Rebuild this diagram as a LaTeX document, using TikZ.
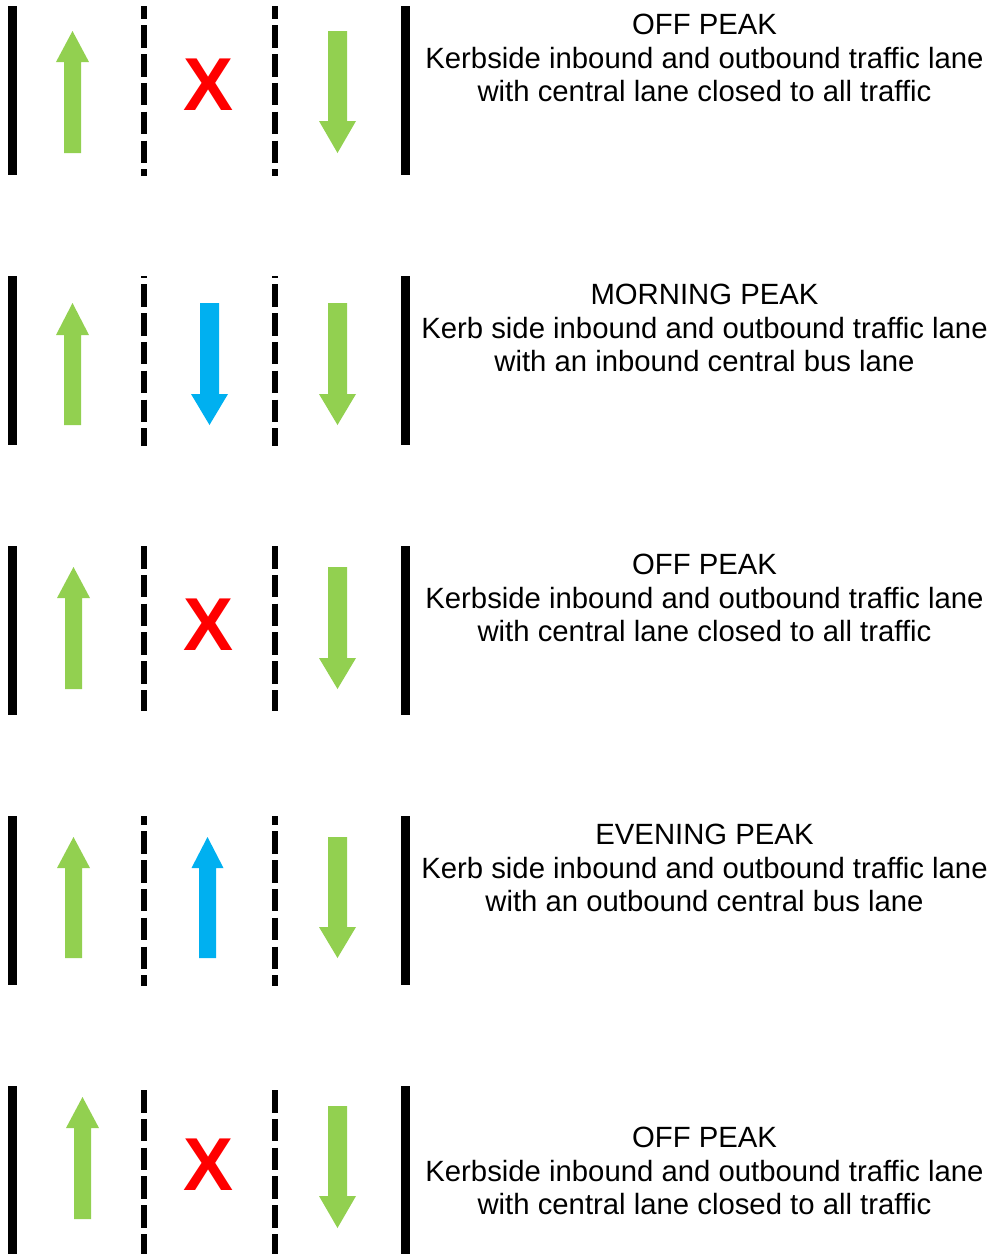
\documentclass[tikz,border=0pt]{standalone}
\usepackage{fontspec}
\setmainfont{Liberation Sans}
\definecolor{lgreen}{HTML}{92D050}
\definecolor{lblue}{HTML}{00B0F0}
\definecolor{xred}{HTML}{FF0000}
% #1 colour, #2 centre x, #3 shaft half width, #4 head half width, #5 tip y, #6 head base y, #7 tail y
\newcommand{\lanearrow}[7]{\fill[#1] (#2-#3,#7) -- (#2-#3,#6) -- (#2-#4,#6) -- (#2,#5) -- (#2+#4,#6) -- (#2+#3,#6) -- (#2+#3,#7) -- cycle;}
\begin{document}
\begin{tikzpicture}[x=1pt,y=-1pt,
  kerb/.style={line width=9pt,black},
  lanedash/.style={line width=6pt,black,dash pattern=on 22.5pt off 6.3pt},
  lbl/.style={anchor=base,inner sep=0pt,font=\fontsize{29.3}{34}\selectfont},
  xmark/.style={anchor=base,inner sep=0pt,text=xred,font=\fontsize{75}{80}\selectfont\bfseries}]
\useasboundingbox (0,0) rectangle (990,1254);

% ---------- Panel 1: OFF PEAK ----------
\draw[kerb] (12.5,6) -- (12.5,175);
\draw[kerb] (405.5,6) -- (405.5,175);
\draw[lanedash,dash phase=9.5pt] (144,6) -- (144,176);
\draw[lanedash,dash phase=9.5pt] (275,6) -- (275,176);
\lanearrow{lgreen}{72.5}{8.5}{16.5}{31}{62}{153}
\lanearrow{lgreen}{337.5}{9.5}{18.5}{153}{121}{31}
\node[xmark] (x1) at (209,110) {X};
\node[lbl] (t1a) at (704.5,34) {OFF PEAK};
\node[lbl] (t1b) at (704.5,68) {Kerbside inbound and outbound traffic lane};
\node[lbl] (t1c) at (704.5,101.5) {with central lane closed to all traffic};

% ---------- Panel 2: MORNING PEAK ----------
\draw[kerb] (12.5,276) -- (12.5,445);
\draw[kerb] (405.5,276) -- (405.5,445);
\draw[lanedash,dash phase=20.5pt] (144,276) -- (144,446);
\draw[lanedash,dash phase=20.5pt] (275,276) -- (275,446);
\lanearrow{lgreen}{72.5}{8.5}{16.5}{303}{335}{425}
\lanearrow{lblue}{209.5}{9.5}{18.5}{425}{394}{303}
\lanearrow{lgreen}{337.5}{9.5}{18.5}{425}{394}{303}
\node[lbl] (t2a) at (704.5,304) {MORNING PEAK};
\node[lbl] (t2b) at (704.5,338) {Kerb side inbound and outbound traffic lane};
\node[lbl] (t2c) at (704.5,371.5) {with an inbound central bus lane};

% ---------- Panel 3: OFF PEAK ----------
\draw[kerb] (12.5,546) -- (12.5,715);
\draw[kerb] (405.5,546) -- (405.5,715);
\draw[lanedash] (144,546) -- (144,711);
\draw[lanedash] (275,546) -- (275,711);
\lanearrow{lgreen}{73.5}{8.5}{16.5}{567}{598}{689}
\lanearrow{lgreen}{337.5}{9.5}{18.5}{689}{658}{567}
\node[xmark] (x3) at (209,650) {X};
\node[lbl] (t3a) at (704.5,574) {OFF PEAK};
\node[lbl] (t3b) at (704.5,608) {Kerbside inbound and outbound traffic lane};
\node[lbl] (t3c) at (704.5,641.5) {with central lane closed to all traffic};

% ---------- Panel 4: EVENING PEAK ----------
\draw[kerb] (12.5,816) -- (12.5,985);
\draw[kerb] (405.5,816) -- (405.5,985);
\draw[lanedash,dash phase=13.5pt] (144,816) -- (144,986);
\draw[lanedash,dash phase=13.5pt] (275,816) -- (275,986);
\lanearrow{lgreen}{73.5}{8.5}{16.5}{837}{868}{958}
\lanearrow{lblue}{207.5}{8.5}{16}{837}{868}{958}
\lanearrow{lgreen}{337.5}{9.5}{18.5}{958}{927}{837}
\node[lbl] (t4a) at (704.5,844) {EVENING PEAK};
\node[lbl] (t4b) at (704.5,878) {Kerb side inbound and outbound traffic lane};
\node[lbl] (t4c) at (704.5,911.5) {with an outbound central bus lane};

% ---------- Panel 5: OFF PEAK ----------
\draw[kerb] (12.5,1086) -- (12.5,1254);
\draw[kerb] (405.5,1086) -- (405.5,1254);
\draw[lanedash] (144,1090) -- (144,1254);
\draw[lanedash] (275,1090) -- (275,1254);
\lanearrow{lgreen}{82.5}{8.5}{16.5}{1097}{1128}{1219}
\lanearrow{lgreen}{337.5}{9.5}{18.5}{1228}{1196}{1106}
\node[xmark] (x5) at (209,1190) {X};
\node[lbl] (t5a) at (704.5,1147) {OFF PEAK};
\node[lbl] (t5b) at (704.5,1181) {Kerbside inbound and outbound traffic lane};
\node[lbl] (t5c) at (704.5,1214.5) {with central lane closed to all traffic};
\end{tikzpicture}
\end{document}
